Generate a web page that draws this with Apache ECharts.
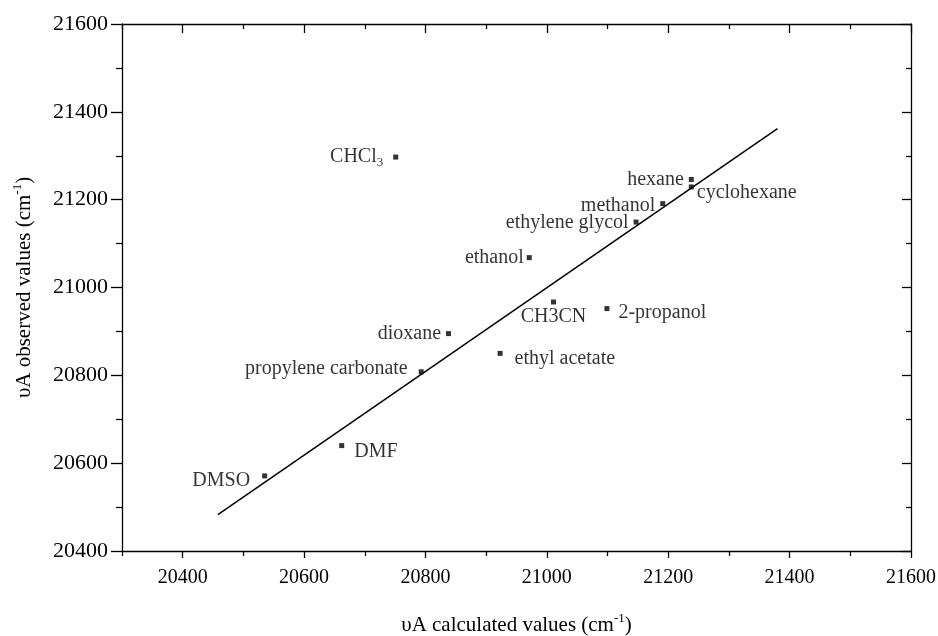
<!DOCTYPE html>
<html>
<head>
<meta charset="utf-8">
<title>vA observed vs calculated</title>
<script src="https://cdn.jsdelivr.net/npm/echarts@6/dist/echarts.min.js"></script>
<style>
  html, body { margin: 0; padding: 0; background: #fff; }
  #chart { width: 938px; height: 636px; }
</style>
</head>
<body>
<div id="chart"></div>
<script>
// solvent points (cm-1)
var solvents = ['DMSO', 'DMF', 'propylene carbonate', 'dioxane', 'ethyl acetate', 'ethanol',
  'CH3CN', '2-propanol', 'ethylene glycol', 'methanol', 'hexane', 'cyclohexane', 'CHCl3'];
var calculated = [20535, 20662, 20793, 20838, 20923, 20971, 21011, 21099, 21147, 21191, 21238, 21238, 20751];
var observed = [20571, 20640, 20808, 20895, 20850, 21068, 20967, 20952, 21149, 21191, 21246, 21229, 21297];

// fitted line ends
var fitX = [20458, 21380];
var fitY = [20483, 21362];

// tick values
var xMajor = [20400, 20600, 20800, 21000, 21200, 21400, 21600];
var xMinor = [20300, 20500, 20700, 20900, 21100, 21300, 21500];
var yMajor = [20400, 20600, 20800, 21000, 21200, 21400, 21600];
var yMinor = [20500, 20700, 20900, 21100, 21300, 21500];

// where each label sits next to its point: [side, distance, dy]
var placement = {
  'DMSO': ['left', 12, 5],
  'DMF': ['right', 10, 6],
  'propylene carbonate': ['left', 11, -3],
  'dioxane': ['left', 5, 0],
  'ethyl acetate': ['right', 12, 5],
  'ethanol': ['left', 3, 0],
  'CH3CN': ['bottom', 2, 0],
  '2-propanol': ['right', 9, 4],
  'ethylene glycol': ['left', 5, 1],
  'methanol': ['left', 5, 2],
  'hexane': ['left', 5, 0],
  'cyclohexane': ['right', 3, 6],
  'CHCl3': ['left', 10, 0]
};

var font = 'Liberation Serif';
var ink = '#000';

function axis(kind, pos, ticks, len, inside, labelValues, labelSize, showLine) {
  var min = kind === 'x' ? 20300 : 20400;
  var a = {
    type: 'value',
    position: pos,
    min: min,
    max: 21600,
    interval: 100,
    splitLine: { show: false },
    axisLine: { show: !!showLine, onZero: false, lineStyle: { color: ink, width: 1.3 } },
    axisTick: { show: true, inside: inside, length: len, customValues: ticks,
      lineStyle: { color: ink, width: 1.3 } },
    axisLabel: { show: false }
  };
  if (labelValues) {
    a.axisLabel = { show: true, customValues: labelValues, color: ink, fontFamily: font,
      fontSize: labelSize, margin: kind === 'x' ? 17 : 14,
      formatter: function (v) { return String(v); } };
  }
  return a;
}

var xAxes = [
  axis('x', 'bottom', xMajor, 7, false, xMajor, 20, true),
  axis('x', 'bottom', xMinor, 5, false, null, 0, false),
  axis('x', 'top', xMajor, 9, true, null, 0, true),
  axis('x', 'top', xMinor, 5, true, null, 0, false)
];
xAxes[0].name = '{t|υA calculated values (cm}{s|-1}{t|)}';
xAxes[0].nameLocation = 'middle';
xAxes[0].nameGap = 62;
xAxes[0].nameTextStyle = {
  rich: {
    t: { fontFamily: font, fontSize: 21, color: ink, lineHeight: 24 },
    s: { fontFamily: font, fontSize: 13, color: ink, lineHeight: 24, padding: [0, 0, 12, 0] }
  }
};

var yAxes = [
  axis('y', 'left', yMajor, 11, false, yMajor, 22, true),
  axis('y', 'left', yMinor, 6, false, null, 0, false),
  axis('y', 'right', yMajor, 9, true, null, 0, true),
  axis('y', 'right', yMinor, 5, true, null, 0, false)
];
yAxes[0].name = '{t|υA observed values (cm}{s|-1}{t|)}';
yAxes[0].nameLocation = 'middle';
yAxes[0].nameGap = 86;
yAxes[0].nameTextStyle = xAxes[0].nameTextStyle;

var points = solvents.map(function (name, i) {
  var p = placement[name];
  return {
    name: name,
    value: [calculated[i], observed[i]],
    label: { position: p[0], distance: p[1], offset: [0, p[2]] }
  };
});

var chart = echarts.init(document.getElementById('chart'));
chart.setOption({
  backgroundColor: '#fff',
  animation: false,
  grid: { left: 122, right: 27, top: 24, bottom: 85, outerBoundsMode: 'none' },
  xAxis: xAxes,
  yAxis: yAxes,
  series: [
    {
      type: 'line',
      data: [[fitX[0], fitY[0]], [fitX[1], fitY[1]]],
      showSymbol: false,
      lineStyle: { color: ink, width: 1.5 },
      z: 2
    },
    {
      type: 'scatter',
      symbol: 'rect',
      symbolSize: 5,
      itemStyle: { color: ink },
      data: points,
      label: {
        show: true,
        color: ink,
        fontFamily: font,
        fontSize: 20,
        formatter: function (p) {
          return p.name === 'CHCl3' ? '{t|CHCl}{s|3}' : p.name;
        },
        rich: {
          t: { fontFamily: font, fontSize: 20, color: ink, lineHeight: 22 },
          s: { fontFamily: font, fontSize: 13, color: ink, lineHeight: 22, padding: [12, 0, 0, 0] }
        }
      },
      z: 3
    }
  ]
});
</script>
</body>
</html>
